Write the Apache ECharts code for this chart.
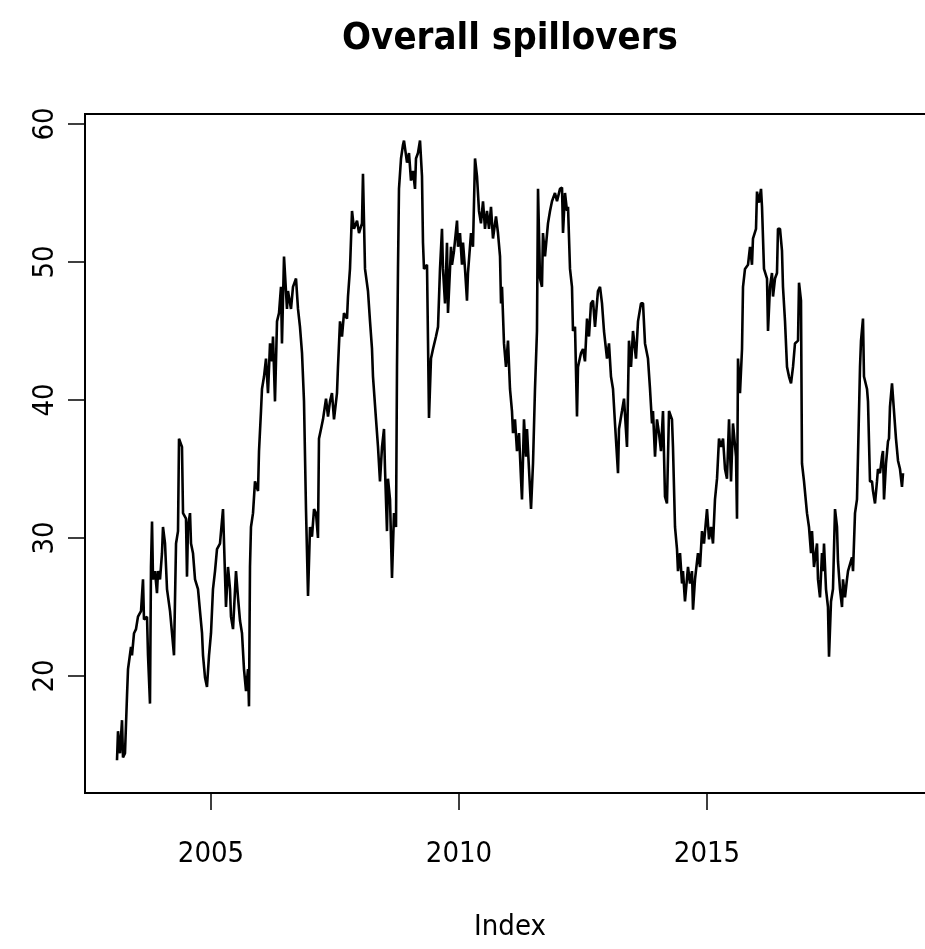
<!DOCTYPE html>
<html>
<head>
<meta charset="utf-8">
<script src="https://cdn.jsdelivr.net/npm/echarts@6/dist/echarts.min.js"></script>
<style>
html,body{margin:0;padding:0;background:#fff;overflow:hidden;width:925px;height:949px;}
#chart{width:950px;height:949px;}
</style>
</head>
<body>
<div id="chart"></div>
<script>
// ---- data (decimal years, overall spillover index) ----
const dates = [
2003.105,2003.125,2003.165,2003.206,2003.226,2003.266,2003.307,2003.327,2003.387,2003.407,
2003.448,2003.488,2003.528,2003.589,2003.629,2003.649,2003.710,2003.730,2003.770,2003.790,
2003.811,2003.831,2003.871,2003.911,2003.932,2003.972,2004.012,2004.032,2004.073,2004.113,
2004.174,2004.214,2004.254,2004.295,2004.335,2004.355,2004.415,2004.436,2004.496,2004.516,
2004.536,2004.577,2004.597,2004.637,2004.678,2004.738,2004.778,2004.819,2004.839,2004.879,
2004.919,2004.960,2005.000,2005.040,2005.081,2005.121,2005.181,2005.242,2005.302,2005.343,
2005.383,2005.403,2005.444,2005.504,2005.544,2005.585,2005.625,2005.665,2005.706,2005.746,
2005.766,2005.786,2005.806,2005.847,2005.887,2005.948,2005.968,2006.008,2006.028,2006.069,
2006.109,2006.149,2006.190,2006.230,2006.250,2006.290,2006.331,2006.371,2006.411,2006.431,
2006.472,2006.532,2006.552,2006.613,2006.653,2006.714,2006.754,2006.794,2006.835,2006.875,
2006.915,2006.956,2006.996,2007.036,2007.077,2007.117,2007.157,2007.177,2007.218,2007.258,
2007.319,2007.359,2007.399,2007.439,2007.480,2007.540,2007.560,2007.601,2007.641,2007.681,
2007.742,2007.762,2007.802,2007.843,2007.883,2007.944,2007.984,2008.044,2008.064,2008.105,
2008.165,2008.206,2008.246,2008.266,2008.327,2008.367,2008.407,2008.448,2008.488,2008.508,
2008.548,2008.568,2008.609,2008.649,2008.689,2008.730,2008.750,2008.770,2008.790,2008.831,
2008.871,2008.891,2008.952,2008.992,2009.032,2009.073,2009.113,2009.133,2009.173,2009.214,
2009.254,2009.274,2009.294,2009.355,2009.375,2009.395,2009.435,2009.476,2009.536,2009.577,
2009.617,2009.657,2009.677,2009.718,2009.758,2009.778,2009.839,2009.859,2009.899,2009.960,
2009.980,2010.020,2010.060,2010.081,2010.121,2010.161,2010.181,2010.242,2010.282,2010.323,
2010.363,2010.403,2010.443,2010.484,2010.524,2010.564,2010.605,2010.645,2010.685,2010.746,
2010.786,2010.827,2010.847,2010.867,2010.907,2010.947,2010.988,2011.028,2011.068,2011.089,
2011.129,2011.169,2011.210,2011.250,2011.270,2011.310,2011.351,2011.371,2011.411,2011.452,
2011.492,2011.532,2011.572,2011.593,2011.633,2011.673,2011.693,2011.734,2011.794,2011.835,
2011.875,2011.935,2011.976,2012.036,2012.077,2012.097,2012.137,2012.177,2012.198,2012.238,
2012.278,2012.298,2012.339,2012.379,2012.399,2012.460,2012.500,2012.540,2012.581,2012.621,
2012.661,2012.702,2012.742,2012.802,2012.843,2012.883,2012.923,2012.984,2013.024,2013.064,
2013.105,2013.145,2013.206,2013.226,2013.286,2013.327,2013.387,2013.427,2013.468,2013.508,
2013.568,2013.609,2013.669,2013.710,2013.750,2013.810,2013.851,2013.891,2013.911,2013.952,
2013.992,2014.032,2014.072,2014.113,2014.153,2014.193,2014.234,2014.294,2014.314,2014.355,
2014.395,2014.415,2014.456,2014.496,2014.516,2014.556,2014.617,2014.657,2014.697,2014.718,
2014.758,2014.818,2014.859,2014.899,2014.939,2015.000,2015.040,2015.081,2015.121,2015.161,
2015.202,2015.242,2015.282,2015.323,2015.363,2015.403,2015.444,2015.484,2015.524,2015.585,
2015.605,2015.625,2015.665,2015.706,2015.726,2015.766,2015.827,2015.867,2015.907,2015.927,
2015.988,2016.008,2016.048,2016.089,2016.109,2016.149,2016.210,2016.230,2016.270,2016.310,
2016.331,2016.371,2016.411,2016.431,2016.472,2016.512,2016.532,2016.573,2016.613,2016.653,
2016.694,2016.734,2016.774,2016.835,2016.855,2016.895,2016.915,2016.956,2017.016,2017.056,
2017.097,2017.117,2017.157,2017.218,2017.238,2017.278,2017.318,2017.339,2017.359,2017.399,
2017.439,2017.460,2017.500,2017.540,2017.581,2017.621,2017.641,2017.681,2017.722,2017.742,
2017.782,2017.822,2017.843,2017.923,2017.944,2017.984,2018.024,2018.044,2018.085,2018.105,
2018.145,2018.165,2018.226,2018.246,2018.286,2018.327,2018.347,2018.387,2018.427,2018.447,
2018.488,2018.528,2018.548,2018.569,2018.609,2018.649,2018.669,2018.689,2018.730,2018.770,
2018.810,2018.851,2018.891,2018.931,2018.952
];
const spill = [
13.9,16.0,14.4,16.8,14.1,14.4,18.6,20.5,22.1,21.5,
23.1,23.4,24.3,24.7,27.0,24.1,24.3,21.5,18.0,27.9,
31.2,27.0,27.6,26.0,27.6,27.0,28.9,30.8,29.6,26.3,
24.7,23.1,21.5,29.6,30.5,37.2,36.6,31.8,31.4,27.2,
30.8,31.8,29.6,28.9,27.0,26.3,24.7,23.1,21.5,19.9,
19.2,21.5,23.1,26.3,27.6,29.2,29.6,32.1,25.0,27.9,
26.3,24.3,23.4,27.6,25.7,24.0,23.1,20.5,18.9,20.5,
17.8,27.9,30.8,31.8,34.1,33.4,36.3,39.2,40.8,41.7,
43.0,40.5,44.1,42.8,44.6,39.9,45.7,46.3,48.2,44.1,
50.4,46.6,47.9,46.6,48.2,48.8,46.6,45.3,43.4,39.9,
32.1,25.8,30.8,30.1,32.1,31.8,30.0,37.2,37.9,38.6,
40.1,38.8,39.9,40.5,38.6,40.5,42.4,45.7,44.6,46.3,
45.9,47.5,49.5,53.7,52.4,53.0,52.1,52.8,56.4,49.5,
47.9,45.7,43.7,41.7,38.6,36.6,34.1,36.6,37.9,35.0,
30.5,34.3,32.8,27.1,31.8,30.8,42.4,49.5,55.3,57.5,
58.5,58.8,57.2,57.9,55.9,56.6,55.3,57.5,57.9,58.8,
56.2,51.4,49.5,49.8,44.3,38.7,43.0,43.7,44.6,45.3,
49.5,52.4,49.5,47.0,51.4,46.3,51.1,49.8,50.8,53.0,
51.1,52.1,49.8,51.4,49.5,47.2,49.2,52.1,51.1,57.5,
56.2,53.7,52.8,54.4,52.4,53.7,52.4,54.0,51.7,53.3,
52.1,50.4,47.0,48.2,44.1,42.4,44.3,40.8,39.2,37.6,
38.6,36.3,37.6,34.3,32.8,38.6,35.9,37.9,35.0,32.1,
35.4,40.8,45.0,55.3,48.8,48.2,52.1,50.4,52.8,53.7,
54.4,55.0,54.4,55.3,55.4,52.1,55.0,53.7,54.0,49.5,
48.2,45.0,45.3,38.8,42.4,43.4,43.7,42.8,45.9,44.6,
47.0,47.2,45.3,47.9,48.2,47.0,45.0,43.0,44.1,41.7,
40.8,38.3,34.7,37.9,39.2,40.1,36.6,44.3,42.4,45.0,
43.0,45.7,47.0,47.0,44.1,43.0,40.8,38.3,39.2,35.9,
38.6,37.6,36.3,39.2,33.0,32.5,39.2,38.6,36.6,30.8,
29.2,27.6,28.9,26.7,27.6,25.4,27.9,26.7,27.6,24.8,
27.0,28.9,27.9,30.5,29.6,32.1,29.9,30.8,29.6,32.8,
34.3,37.2,36.6,37.2,35.0,34.3,38.6,34.1,38.3,35.9,
31.4,43.0,40.5,43.7,48.2,49.5,49.8,51.1,49.8,51.7,
52.4,55.1,54.3,55.3,54.0,49.5,48.8,45.0,48.2,49.2,
47.5,48.8,49.2,52.4,52.4,50.8,48.2,45.7,42.4,41.7,
41.2,42.4,44.1,44.3,48.5,47.2,35.4,34.1,31.8,30.8,
28.9,30.5,27.9,29.6,27.0,25.7,28.9,27.6,29.6,26.3,
25.0,21.4,25.4,26.3,32.1,30.8,28.3,26.3,25.0,27.0,
25.7,27.0,27.6,28.6,27.6,31.8,32.8,35.9,42.4,44.3,
45.9,41.7,40.8,39.9,34.1,34.1,33.4,32.5,34.1,35.0,
34.7,35.9,36.3,32.8,35.4,37.0,37.2,39.5,41.2,39.2,
37.2,35.6,35.0,33.7,34.7
];
const xTicks = [2005, 2010, 2015];
const yTicks = [20, 30, 40, 50, 60];
const titleText = 'Overall spillovers';
const xName = 'Index';

// ---- font choice: narrow Helvetica-like face if installed ----
const ctx = document.createElement('canvas').getContext('2d');
function hasFont(name) {
  ctx.font = '40px monospace';
  const a = ctx.measureText('2005 Overall spillovers Index').width;
  ctx.font = '40px "' + name + '", monospace';
  const b = ctx.measureText('2005 Overall spillovers Index').width;
  return Math.abs(a - b) > 0.5;
}
let FONT, labelSize, titleSize;
if (hasFont('Liberation Sans Narrow')) {
  FONT = '"Liberation Sans Narrow", "Liberation Sans", Arial, sans-serif';
  labelSize = 34; titleSize = 45;
} else if (hasFont('DejaVu Sans Condensed')) {
  FONT = '"DejaVu Sans Condensed", "Liberation Sans", sans-serif';
  labelSize = 29; titleSize = 38;
} else {
  FONT = '"Liberation Sans", Arial, sans-serif';
  labelSize = 29; titleSize = 40;
}

// ---- chart ----
const gridLeft = 85, gridTop = 114, gridRight = 15, gridH = 679;
const gridW = 950 - gridLeft - gridRight;
const pxPerYear = 49.6;
const xMin = 2005 - 126 / pxPerYear;
const xMax = xMin + gridW / pxPerYear;
const pxPerUnit = 13.8;
const yMax = 60 + 10 / pxPerUnit;
const yMin = yMax - gridH / pxPerUnit;

ctx.font = 'bold ' + titleSize + 'px ' + FONT;
const titleW = ctx.measureText(titleText).width;

const chart = echarts.init(document.getElementById('chart'), null, {renderer: 'canvas'});
chart.setOption({
  animation: false,
  backgroundColor: '#ffffff',
  title: {
    text: titleText,
    left: 510 - titleW / 2,
    top: 39 - titleSize / 2,
    padding: 0,
    textStyle: {fontFamily: FONT, fontWeight: 'bold', fontSize: titleSize, color: '#000', lineHeight: titleSize}
  },
  grid: {
    left: gridLeft, top: gridTop, right: gridRight, height: gridH,
    show: true, borderColor: '#000', borderWidth: 2, backgroundColor: 'transparent'
  },
  xAxis: {
    type: 'value', min: xMin, max: xMax,
    axisLine: {show: false},
    splitLine: {show: false},
    axisTick: {show: true, customValues: xTicks, length: 17, lineStyle: {color: '#000', width: 1.5}},
    axisLabel: {customValues: xTicks, margin: 854 - 793 - labelSize / 2, fontFamily: FONT,
      fontSize: labelSize, lineHeight: labelSize, color: '#000', formatter: v => String(v)},
    name: xName, nameLocation: 'middle', nameGap: 927 - 793 - labelSize / 2,
    nameTextStyle: {fontFamily: FONT, fontSize: labelSize, lineHeight: labelSize, color: '#000'}
  },
  yAxis: {
    type: 'value', min: yMin, max: yMax,
    axisLine: {show: false},
    splitLine: {show: false},
    axisTick: {show: true, customValues: yTicks, length: 17, lineStyle: {color: '#000', width: 1.5}},
    axisLabel: {customValues: yTicks, rotate: 90, margin: 85 - 45 - labelSize / 2, fontFamily: FONT,
      fontSize: labelSize, lineHeight: labelSize, color: '#000'}
  },
  series: [{
    type: 'line',
    data: dates.map((d, i) => [d, spill[i]]),
    showSymbol: false,
    symbol: 'none',
    lineStyle: {color: '#000', width: 2.6},
    silent: true
  }]
});
</script>
</body>
</html>
